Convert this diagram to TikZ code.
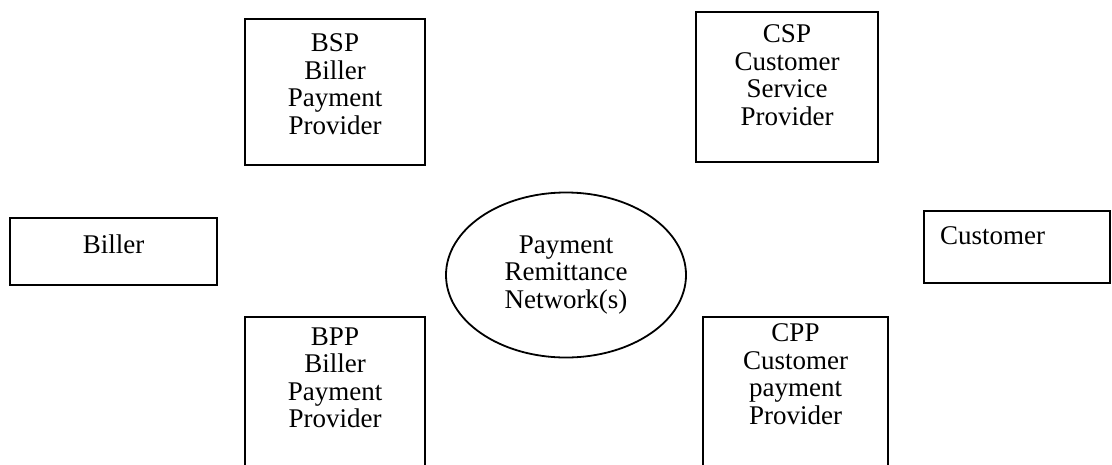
\documentclass[tikz,border=0pt]{standalone}
\usepackage{fontspec}
\setmainfont{Liberation Serif}
\usetikzlibrary{shapes.geometric}
\begin{document}
\begin{tikzpicture}[x=1pt,y=-1pt,
  frame/.style={draw, line width=1.8pt, rectangle, inner sep=0pt},
  words/.style={align=center, font=\fontsize{27}{27.5}\selectfont, inner sep=0pt},
]
\useasboundingbox (0,0) rectangle (1112,464);
\clip (0,0) rectangle (1112,464);
% boxes
\node[frame, minimum width=180pt, minimum height=146pt] (bspbox) at (335,92) {};
\node[frame, minimum width=182pt, minimum height=150pt] (cspbox) at (787,87) {};
\node[frame, minimum width=207pt, minimum height=67pt] (billerbox) at (113.5,251.5) {};
\node[frame, minimum width=186pt, minimum height=72pt] (customerbox) at (1017,247) {};
\node[frame, minimum width=180pt, minimum height=183pt] (bppbox) at (335,408.5) {};
\node[frame, minimum width=185pt, minimum height=183pt] (cppbox) at (795.5,408.5) {};
\node[draw, line width=1.8pt, ellipse, minimum width=240pt, minimum height=165pt, inner sep=0pt,
      align=center, font=\fontsize{27}{27.5}\selectfont] (prn) at (566,275)
      {Payment\\Remittance\\Network(s)};
% texts
\node[words] (bsp) at (335,84) {BSP\\Biller\\Payment\\Provider};
\node[words] (csp) at (787,75) {CSP\\Customer\\Service\\Provider};
\node[words] (biller) at (113.5,244) {Biller};
\node[words, anchor=west] (customer) at (940,236) {Customer};
\node[words] (bpp) at (335,378) {BPP\\Biller\\Payment\\Provider};
\node[words] (cpp) at (795.5,374) {CPP\\Customer\\payment\\Provider};
\end{tikzpicture}
\end{document}
